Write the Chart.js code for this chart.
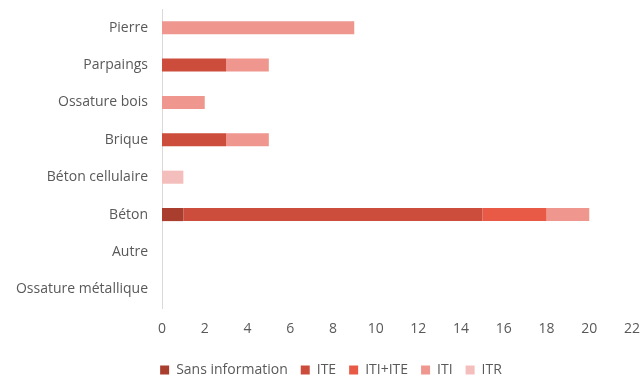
<!DOCTYPE html>
<html>
<head>
<meta charset="utf-8">
<script src="https://cdn.jsdelivr.net/npm/chart.js@4/dist/chart.umd.min.js"></script>
<style>
  html, body { margin: 0; padding: 0; background: #fff; }
  canvas { display: block; }
</style>
</head>
<body>
<canvas id="murs" width="641" height="376"></canvas>
<script>
var categories = ["Pierre", "Parpaings", "Ossature bois", "Brique", "Béton cellulaire", "Béton", "Autre", "Ossature métallique"];
var sansInfo = [0, 0, 0, 0, 0, 1, 0, 0];
var ite = [0, 3, 0, 3, 0, 14, 0, 0];
var itiIte = [0, 0, 0, 0, 0, 3, 0, 0];
var iti = [9, 2, 2, 2, 0, 2, 0, 0];
var itr = [0, 0, 0, 0, 1, 0, 0, 0];

Chart.defaults.font.family = "'Open Sans', sans-serif";
Chart.defaults.font.size = 14;
Chart.defaults.color = "#595959";

function serie(label, values, color) {
  return {
    label: label,
    data: values,
    backgroundColor: color,
    borderWidth: 0,
    categoryPercentage: 0.7,
    barPercentage: 0.5,
  };
}

// nudge the legend a little to the right of the canvas centre
var legendShift = {
  id: "legendShift",
  afterLayout: function (chart) {
    chart.legend.left += 15;
    chart.legend.right += 15;
  },
};

new Chart("murs", {
  type: "bar",
  data: {
    labels: categories,
    datasets: [
      serie("Sans information", sansInfo, "#a93d2e"),
      serie("ITE", ite, "#cc4d3b"),
      serie("ITI+ITE", itiIte, "#e85a45"),
      serie("ITI", iti, "#ef968e"),
      serie("ITR", itr, "#f4bebc"),
    ],
  },
  options: {
    indexAxis: "y",
    responsive: false,
    animation: false,
    layout: { padding: { left: 0, right: 9, top: 9, bottom: -11 } },
    scales: {
      x: {
        stacked: true,
        min: 0,
        max: 22,
        ticks: { stepSize: 2, padding: 13 },
        grid: { display: false, drawTicks: false },
        border: { display: false },
        afterFit: function (scale) {
          scale.height = 42;
          scale.paddingLeft = 0;
          scale.paddingRight = 0;
        },
      },
      y: {
        stacked: true,
        ticks: { padding: 14 },
        grid: { display: false, drawTicks: false },
        border: { display: true, color: "#d9d9d9", width: 1 },
        afterFit: function (scale) {
          scale.width = 162;
          scale.paddingTop = 0;
          scale.paddingBottom = 0;
        },
      },
    },
    plugins: {
      legend: {
        position: "bottom",
        labels: {
          boxWidth: 9,
          boxHeight: 9,
          padding: 13,
        },
      },
      tooltip: { enabled: false },
    },
  },
  plugins: [legendShift],
});
</script>
</body>
</html>
